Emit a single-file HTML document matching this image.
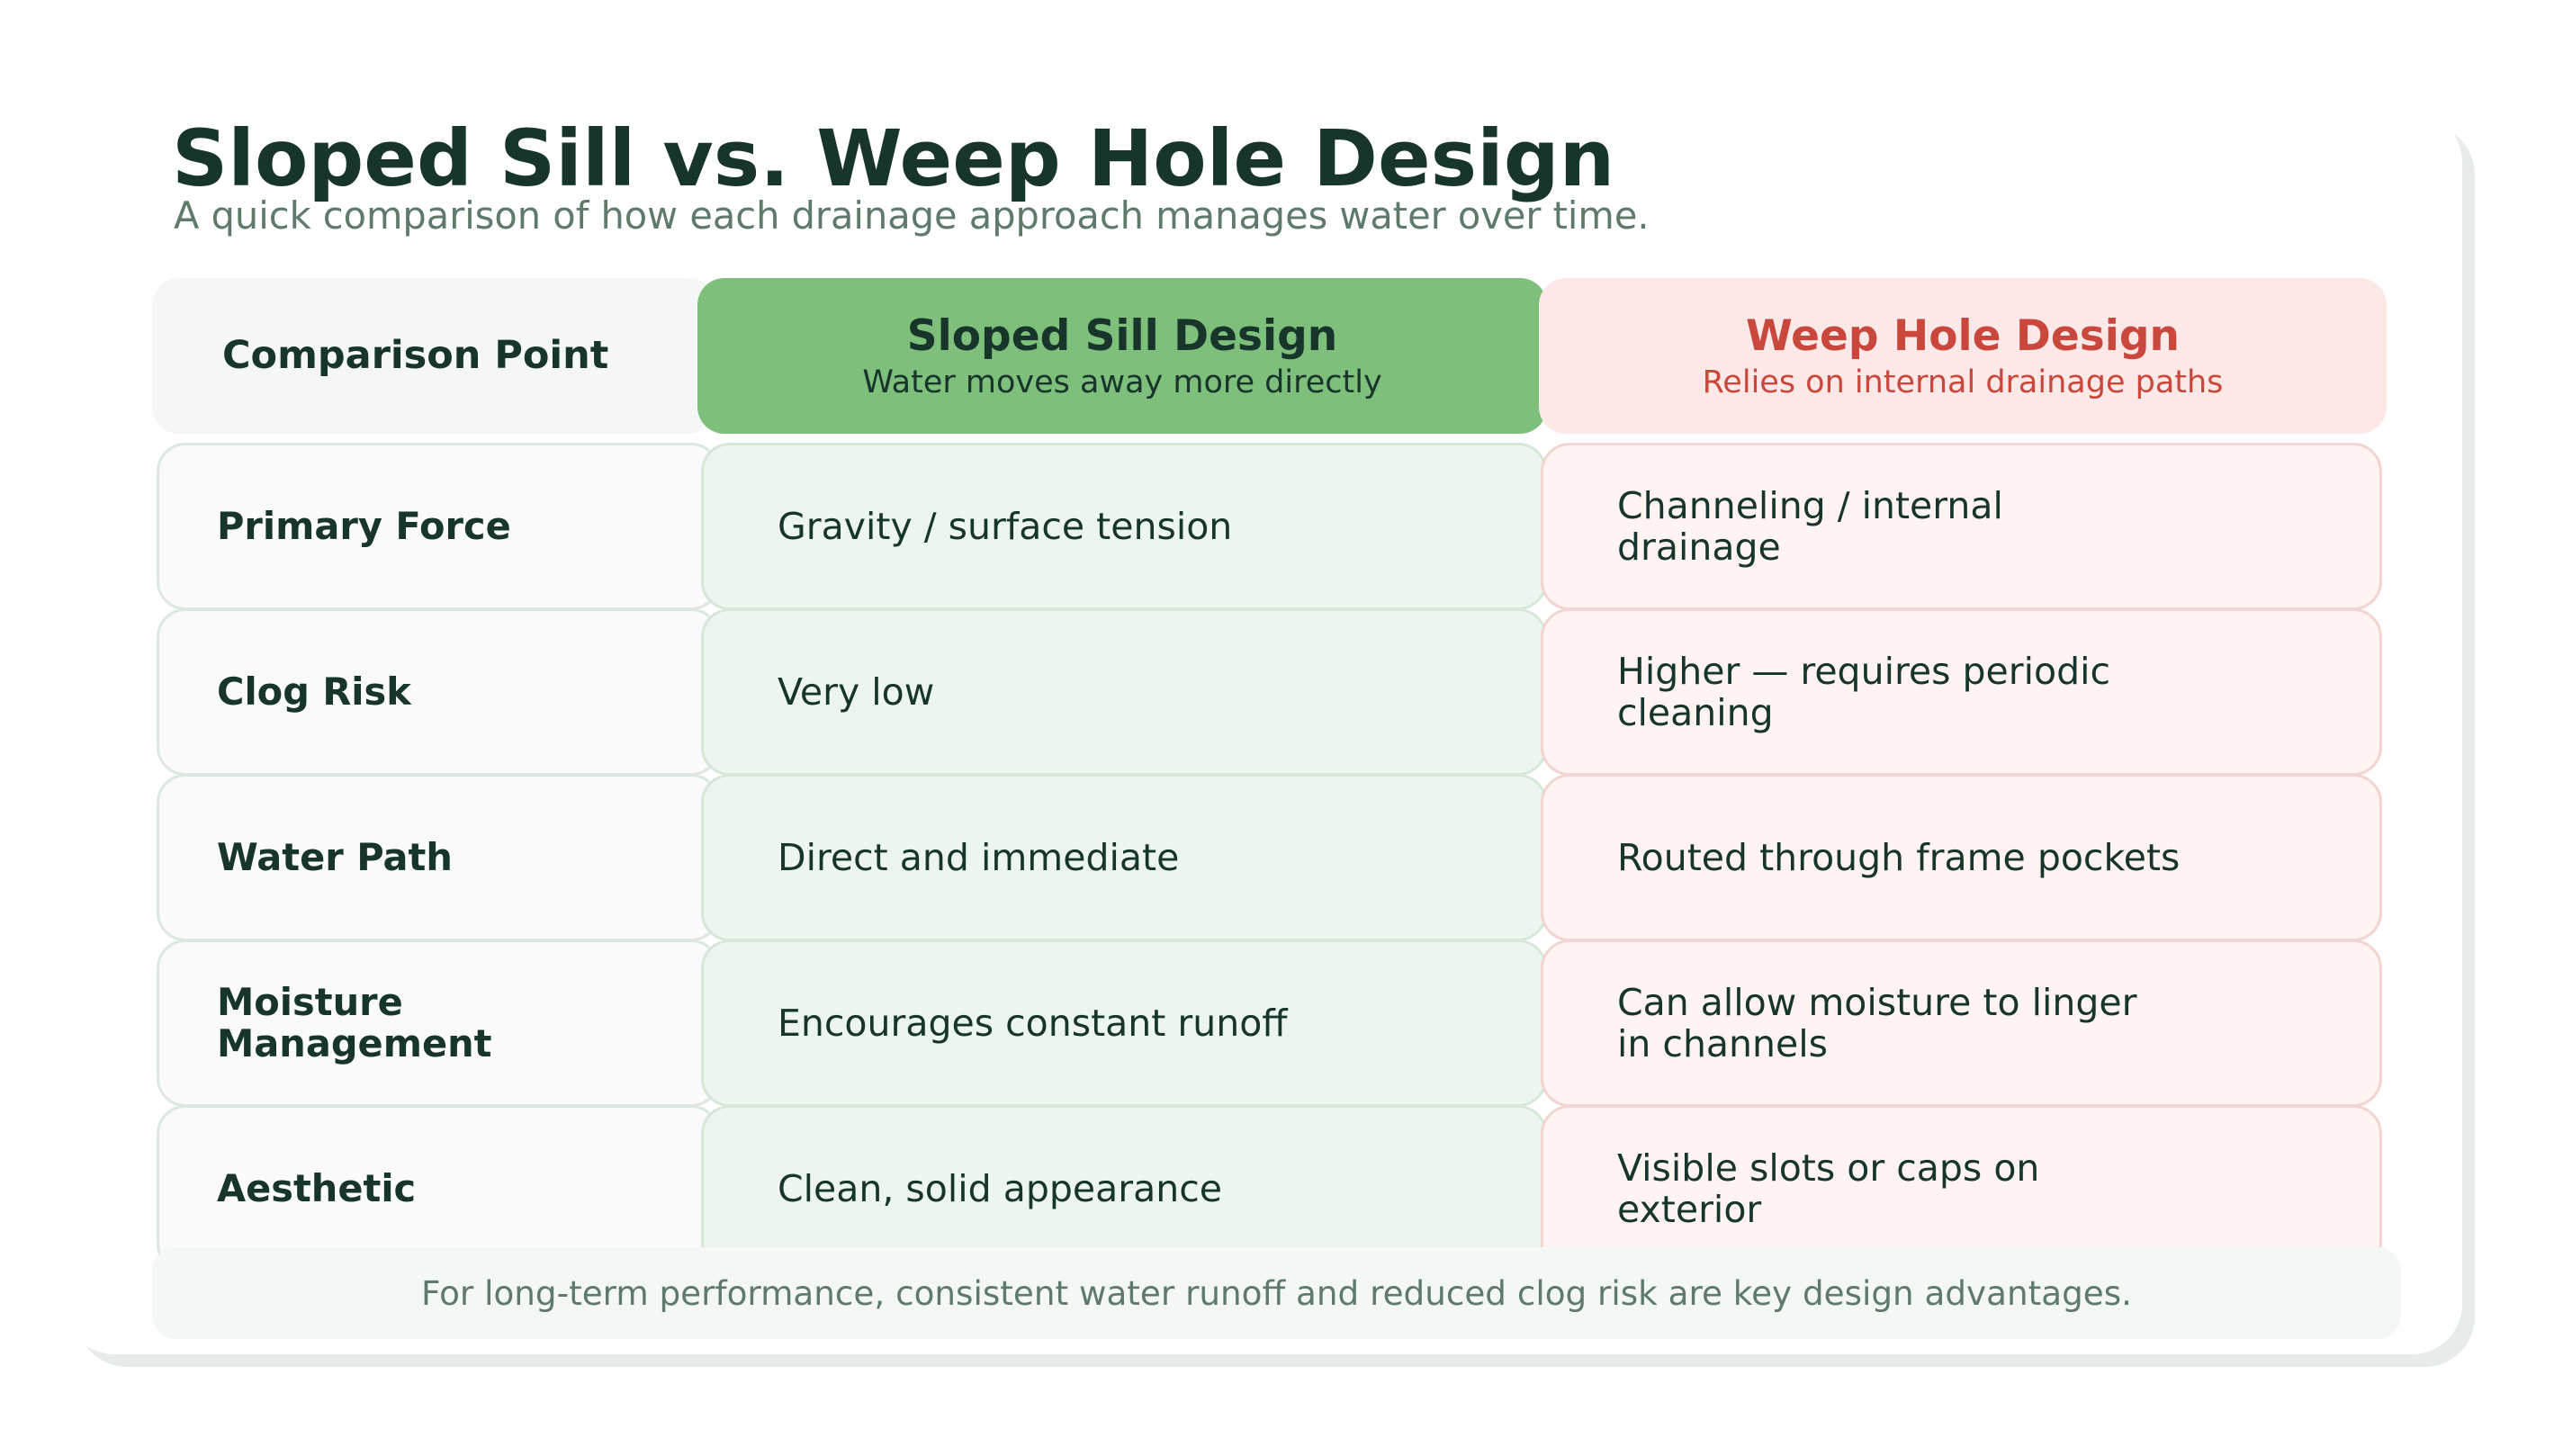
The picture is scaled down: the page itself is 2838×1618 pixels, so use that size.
<!DOCTYPE html>
<html><head><meta charset="utf-8"><style>
*{margin:0;padding:0;box-sizing:border-box}
body{width:2838px;height:1618px;background:#fff;position:relative;overflow:hidden;font-family:"DejaVu Sans","Liberation Sans",sans-serif;color:#17352a}
.a{position:absolute}
.shadow{left:85px;top:138px;width:2665px;height:1381px;background:#e6ece8;border-radius:56px}
.card{left:71px;top:124px;width:2665px;height:1381px;background:#fff;border-radius:56px}
h1{position:absolute;left:191px;top:127px;font-size:86.5px;font-weight:bold;color:#17352a;white-space:nowrap}
.sub{left:193px;top:215px;font-size:41.5px;color:#5f7a6a;white-space:nowrap}
.hd{top:309px;height:173px;border-radius:30px;display:flex;flex-direction:column;justify-content:center;align-items:center}
.cell{height:186px;border-radius:32px;border:3px solid;display:flex;align-items:center;font-size:41px;line-height:46px}
.c1{left:174px;width:626px;background:#fafafa;border-color:#dce8df;padding-left:64px;font-weight:bold;font-size:41.5px}
.c2{left:779px;width:940px;background:#edf6ee;border-color:#d6e8d8;padding-left:82px}
.c3{left:1712px;width:935px;background:#fff4f2;border-color:#f2d5d1;padding-left:82px}
.c3 span{width:630px;display:block}
.foot{left:169px;top:1386px;width:2499px;height:102px;background:#f4f8f5;border-radius:26px;display:flex;align-items:center;justify-content:center;font-size:37.3px;color:#5f7a6a}
</style></head><body>
<div class="a shadow"></div>
<div class="a card"></div>
<h1>Sloped Sill vs. Weep Hole Design</h1>
<div class="a sub">A quick comparison of how each drainage approach manages water over time.</div>

<div class="a hd" style="left:169px;width:626px;background:#f4f7f5;align-items:flex-start;padding-left:78px"><div style="font-size:43px;font-weight:bold;margin-top:-2px">Comparison Point</div></div>
<div class="a hd" style="left:775px;width:944px;background:#7dbf7b"><div style="font-size:47px;font-weight:bold;color:#17352a">Sloped Sill Design</div><div style="font-size:35px;color:#17352a;margin-top:4px">Water moves away more directly</div></div>
<div class="a hd" style="left:1710px;width:942px;background:#fce8e6"><div style="font-size:47px;font-weight:bold;color:#c9473d">Weep Hole Design</div><div style="font-size:35px;color:#c9473d;margin-top:4px">Relies on internal drainage paths</div></div>

<div class="a cell c1" style="top:492px">Primary Force</div>
<div class="a cell c2" style="top:492px">Gravity / surface tension</div>
<div class="a cell c3" style="top:492px"><span>Channeling / internal<br>drainage</span></div>

<div class="a cell c1" style="top:676px">Clog Risk</div>
<div class="a cell c2" style="top:676px">Very low</div>
<div class="a cell c3" style="top:676px"><span>Higher — requires periodic<br>cleaning</span></div>

<div class="a cell c1" style="top:860px">Water Path</div>
<div class="a cell c2" style="top:860px">Direct and immediate</div>
<div class="a cell c3" style="top:860px"><span style="white-space:nowrap">Routed through frame pockets</span></div>

<div class="a cell c1" style="top:1044px"><span style="width:400px;display:block">Moisture Management</span></div>
<div class="a cell c2" style="top:1044px">Encourages constant runoff</div>
<div class="a cell c3" style="top:1044px"><span>Can allow moisture to linger<br>in channels</span></div>

<div class="a cell c1" style="top:1228px">Aesthetic</div>
<div class="a cell c2" style="top:1228px">Clean, solid appearance</div>
<div class="a cell c3" style="top:1228px"><span>Visible slots or caps on<br>exterior</span></div>

<div class="a foot">For long-term performance, consistent water runoff and reduced clog risk are key design advantages.</div>
</body></html>
